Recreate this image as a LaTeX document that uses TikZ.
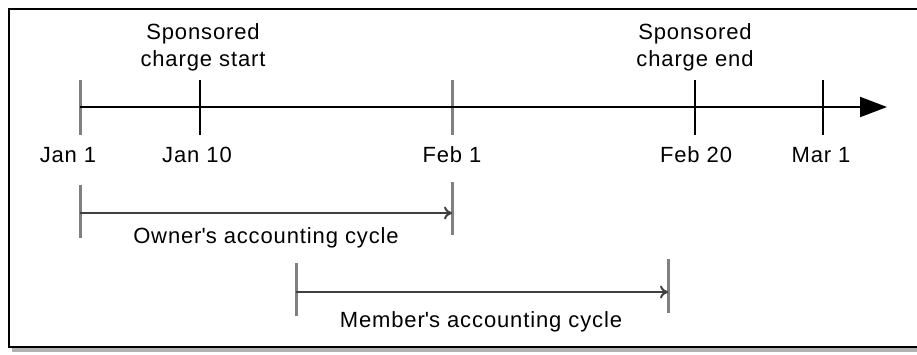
\documentclass[tikz,border=0pt]{standalone}
\usepackage{fontspec}
\setmainfont[LetterSpace=4]{Liberation Sans}
\usetikzlibrary{arrows.meta}

\begin{document}
\begin{tikzpicture}[x=1pt, y=-1pt,
    every node/.style={font=\fontsize{22}{27}\selectfont, align=center, inner sep=0pt, anchor=base},
    axisline/.style={line width=2pt, -{Triangle[length=27pt, width=20pt]}},
    blacktick/.style={line width=2pt},
    graytick/.style={line width=3pt, gray},
    cyclearrow/.style={line width=2pt, black!75, -{To[length=8pt, width=13pt]}}]
     \useasboundingbox (0,0) rectangle (917,354);
     \clip (0,0) rectangle (917,354);

     % frame with shadow
     \fill[gray!60] (12,12) rectangle (940,352);
     \draw[line width=2pt, fill=white] (9,9) rectangle (935,347);

     % time line
     \coordinate (jan1a) at (80,80);   \coordinate (jan1b) at (80,135);
     \coordinate (jan10a) at (200,80); \coordinate (jan10b) at (200,135);
     \coordinate (feb1a) at (452,80);  \coordinate (feb1b) at (452,135);
     \coordinate (feb20a) at (695,80); \coordinate (feb20b) at (695,135);
     \coordinate (mar1a) at (823,80);  \coordinate (mar1b) at (823,135);
     \coordinate (start) at (80,107);
     \coordinate (end) at (887,107);

     \draw[graytick] (jan1a) -- (jan1b);
     \draw[blacktick] (jan10a) -- (jan10b);
     \draw[graytick] (feb1a) -- (feb1b);
     \draw[blacktick] (feb20a) -- (feb20b);
     \draw[blacktick] (mar1a) -- (mar1b);
     \draw[axisline] (start) -- (end);

     \node (jan1) at (68,162) {Jan 1};
     \node (jan10) at (197,162) {Jan 10};
     \node (feb1) at (452,162) {Feb 1};
     \node (feb20) at (696,162) {Feb 20};
     \node (mar1) at (821,162) {Mar 1};
     \node (chstart) at (203,66) {Sponsored\\charge start};
     \node (chend) at (695,66) {Sponsored\\charge end};

     % owner's cycle
     \coordinate (own1a) at (80,185);  \coordinate (own1b) at (80,238);
     \coordinate (own2a) at (452,182); \coordinate (own2b) at (452,235);
     \coordinate (own1) at (80,213);   \coordinate (own2) at (452,213);
     \draw[graytick] (own1a) -- (own1b);
     \draw[graytick] (own2a) -- (own2b);
     \draw[cyclearrow] (own1) -- (own2);
     \node (owner) at (266,243) {Owner\textquotesingle s accounting cycle};

     % member's cycle
     \coordinate (mem1a) at (296,263); \coordinate (mem1b) at (296,316);
     \coordinate (mem2a) at (668,259); \coordinate (mem2b) at (668,313);
     \coordinate (mem1) at (296,292);  \coordinate (mem2) at (668,292);
     \draw[graytick] (mem1a) -- (mem1b);
     \draw[graytick] (mem2a) -- (mem2b);
     \draw[cyclearrow] (mem1) -- (mem2);
     \node (member) at (481,327) {Member\textquotesingle s accounting cycle};
\end{tikzpicture}
\end{document}
